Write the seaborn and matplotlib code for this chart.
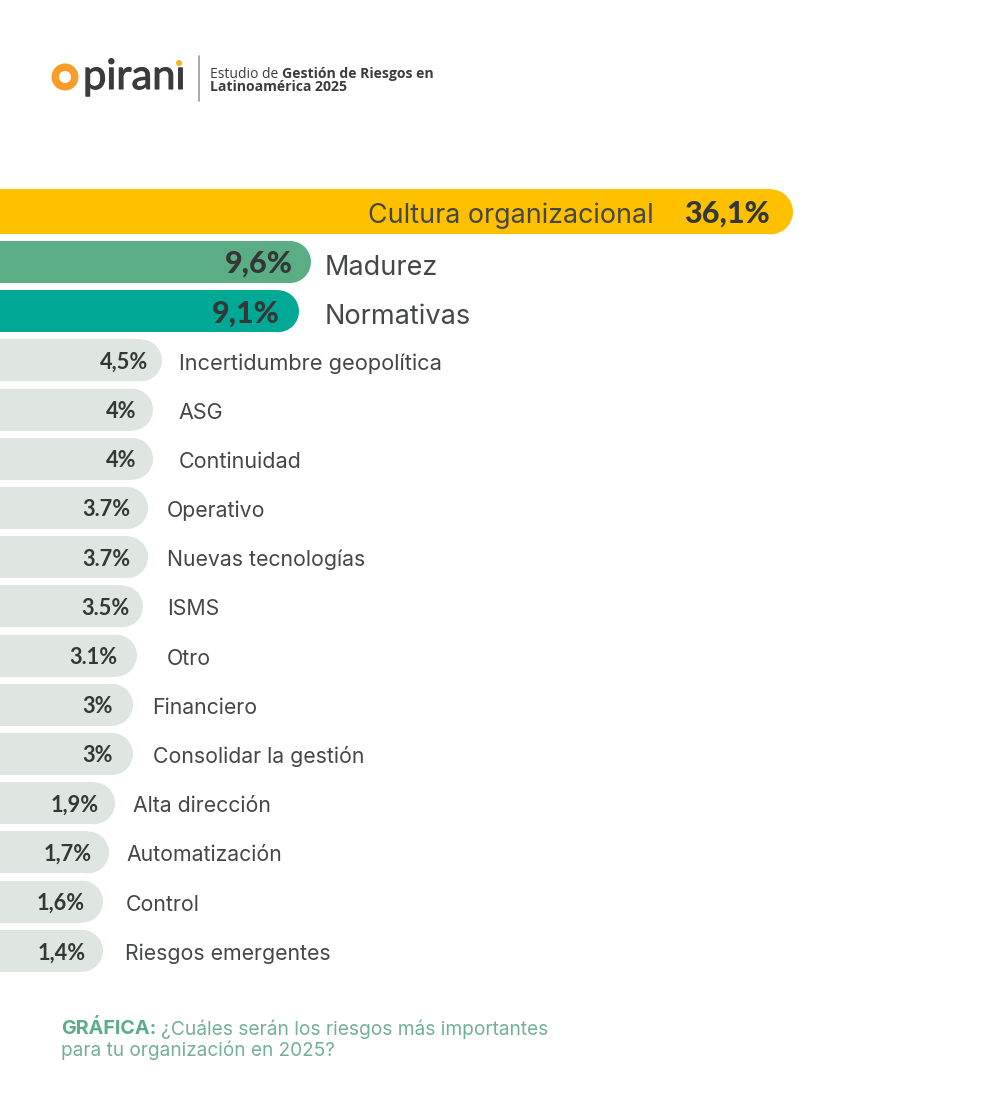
import matplotlib
matplotlib.use('Agg')
import matplotlib.pyplot as plt
import matplotlib.patheffects as pe
import pandas as pd
import seaborn as sns
from matplotlib.patches import Circle, Ellipse, Wedge

sns.set_style("white")
plt.rcParams['font.family'] = ['Inter', 'DejaVu Sans']

categories = ["Cultura organizacional", "Madurez", "Normativas", "Incertidumbre geopolítica",
              "ASG", "Continuidad", "Operativo", "Nuevas tecnologías", "ISMS", "Otro",
              "Financiero", "Consolidar la gestión", "Alta dirección", "Automatización",
              "Control", "Riesgos emergentes"]
value_labels = ["36,1%", "9,6%", "9,1%", "4,5%", "4%", "4%", "3.7%", "3.7%", "3.5%", "3.1%",
                "3%", "3%", "1,9%", "1,7%", "1,6%", "1,4%"]
# the bars in the picture are not proportional to the printed %, so length is read off separately
bar_length = [793, 311, 299, 162, 153, 153, 148, 148, 143, 137, 133, 133, 115, 109, 103, 103]

colors = ["#FFC000", "#5BAD85", "#00A896"] + ["#DFE6E1"] * 13
name_x = [368, 325, 325, 179, 178, 179, 167, 167, 167, 167, 152, 153, 133, 126, 126, 125]
value_right = [770, 293, 280, 148, 136, 136, 130, 130, 130, 117, 113, 113, 99, 92, 85, 86]
name_size = [19.3, 19.5, 19.5, 15.7, 15.5, 15.5] + [15.3] * 10
value_size = [22, 22, 22] + [15.7] * 13
name_drop = [4, 6, 6] + [3] * 13

TOP = 212.8
PITCH = 49.2
DARK = "#333836"

df = pd.DataFrame({"name": categories, "length": bar_length})

fig = plt.figure(figsize=(10, 11.19), dpi=100)
ax = fig.add_axes([0, 0, 1, 1])
sns.barplot(data=df, x="length", y="name", hue="name", palette=colors, legend=False,
            width=42 / PITCH, saturation=1, linewidth=0, ax=ax)
ax.set_xlim(0, 1000)
ax.set_ylim((1119 - TOP) / PITCH, -TOP / PITCH)
ax.axis("off")

# cut each bar short by the radius and finish it with a round cap
for i, bar in enumerate(list(ax.patches)):
    y = bar.get_y()
    h = bar.get_height()
    if i == 0:
        y = y - 2.5 / PITCH
        h = 45 / PITCH
        bar.set_y(y)
        bar.set_height(h)
    r = h * PITCH / 2
    end = bar.get_width()
    bar.set_width(end - r)
    ax.add_patch(Ellipse((end - r, y + h / 2), 2 * r, h, fc=bar.get_facecolor(), ec="none", lw=0))

    yc = y + h / 2
    big = i < 3
    ax.text(value_right[i], yc + 2 / PITCH, value_labels[i], ha="right", va="center",
            fontsize=value_size[i], fontweight=900 if big else "bold", color=DARK,
            family=["Lato", "DejaVu Sans"])
    ax.text(name_x[i], yc + name_drop[i] / PITCH, categories[i], ha="left", va="center",
            fontsize=name_size[i], color="#444746")

# overlay in pixel coordinates for header and caption
top = fig.add_axes([0, 0, 1, 1])
top.set_xlim(0, 1000)
top.set_ylim(1119, 0)
top.axis("off")
top.patch.set_alpha(0)

top.add_patch(Wedge((65, 77), 13.5, 0, 360, width=7.5, fc="#F99D2A", ec="none"))
top.text(83, 77, "piran\u0131", fontsize=30, color="#3b3b3b", va="center", ha="left",
         family=["Lato", "DejaVu Sans"],
         path_effects=[pe.withStroke(linewidth=0.8, foreground="#3b3b3b")])
top.add_patch(Circle((179, 63), 3, fc="#F5B81F", ec="none"))
top.plot([198.5, 198.5], [56, 101], color="#9a9a9a", lw=1.2)

head = ["Open Sans", "DejaVu Sans"]
top.text(210, 74, "Estudio de", fontsize=10, color="#3c3c3c", va="center", family=head)
top.text(282, 74, "Gestión de Riesgos en", fontsize=10.1, color="#3c3c3c", va="center",
         fontweight="bold", family=head)
top.text(210, 87, "Latinoamérica 2025", fontsize=10.1, color="#3c3c3c", va="center",
         fontweight="bold", family=head)

top.text(61, 1029, "GRÁFICA:", fontsize=14.2, color="#5BAD85", va="center", fontweight="bold")
top.text(161, 1029, "¿Cuáles serán los riesgos más importantes", fontsize=13.8, color="#74B096", va="center")
top.text(61, 1050, "para tu organización en 2025?", fontsize=13.7, color="#74B096", va="center")

fig.savefig("out.png", dpi=100)
